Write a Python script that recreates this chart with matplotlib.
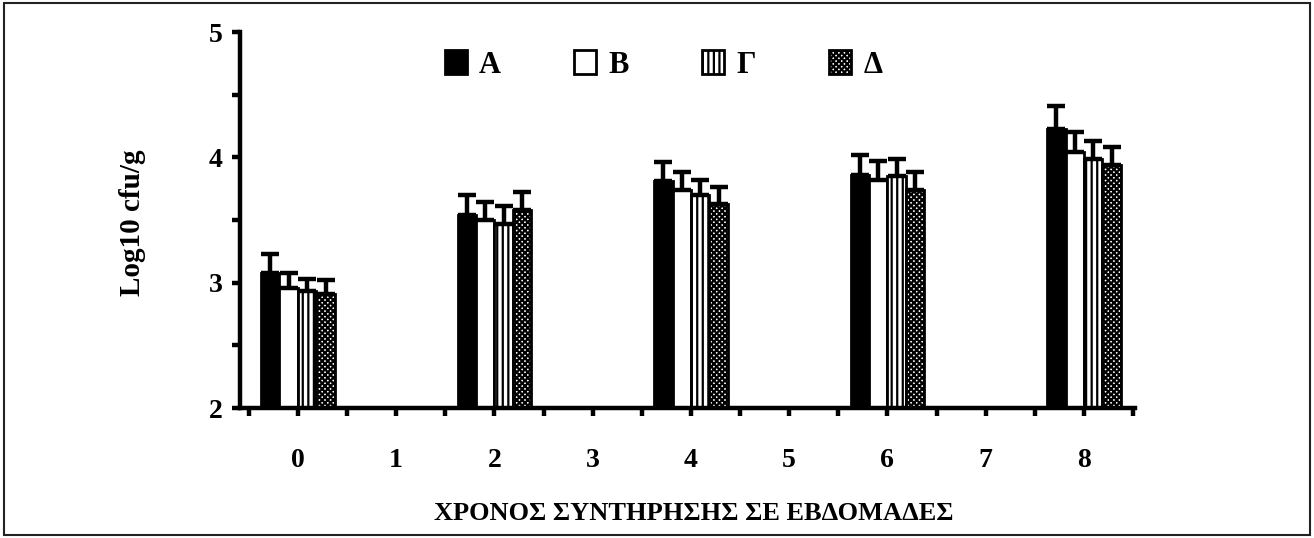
import numpy as np
import matplotlib
matplotlib.use("Agg")
import matplotlib.pyplot as plt
from matplotlib.patches import Rectangle
from matplotlib.ticker import MultipleLocator

plt.rcParams['font.family'] = ['Liberation Serif', 'DejaVu Serif']
plt.rcParams['font.weight'] = 'bold'
plt.rcParams['hatch.linewidth'] = 1.6

# weeks of storage that have measurements
weeks = [0, 2, 4, 6, 8]
week_ticks = list(range(9))
series = ['Α', 'Β', 'Γ', 'Δ']

# mean log10 cfu/g and upper error for each series
means = {
    'Α': [3.08, 3.54, 3.81, 3.86, 4.23],
    'Β': [2.96, 3.50, 3.74, 3.82, 4.04],
    'Γ': [2.93, 3.47, 3.70, 3.85, 3.99],
    'Δ': [2.91, 3.58, 3.63, 3.74, 3.94],
}
errors = {
    'Α': [0.15, 0.16, 0.15, 0.16, 0.18],
    'Β': [0.12, 0.14, 0.14, 0.15, 0.16],
    'Γ': [0.10, 0.14, 0.12, 0.14, 0.14],
    'Δ': [0.11, 0.14, 0.13, 0.14, 0.14],
}

styles = {
    'Α': dict(facecolor='black', hatch=None),
    'Β': dict(facecolor='white', hatch=None),
    'Γ': dict(facecolor='white', hatch='|||'),
    'Δ': dict(facecolor='white', hatch='xxxxxx'),
}

fig = plt.figure(figsize=(13.14, 5.38), dpi=100)
ax = fig.add_axes([0.1826, 0.2416, 0.6812, 0.6989])

w = 0.1875
x = np.array(weeks, dtype=float)
handles = []
for i, s in enumerate(series):
    xs = x + (i - 1.5) * w
    b = ax.bar(xs, np.array(means[s]) - 2, bottom=2, width=w,
               edgecolor='black', linewidth=2, label=s, zorder=2,
               **styles[s])
    handles.append(b)
    ax.errorbar(xs, means[s], yerr=[np.zeros(len(weeks)), errors[s]],
                fmt='none', ecolor='black', elinewidth=3.2, capsize=6.5,
                capthick=3.2, zorder=3)

ax.set_xlim(-0.59, 8.52)
ax.set_ylim(2, 5)
ax.set_xticks(week_ticks)
ax.set_xticklabels([str(t) for t in week_ticks])
ax.xaxis.set_minor_locator(MultipleLocator(0.5))
ax.set_yticks([2, 3, 4, 5])
ax.set_yticklabels(['2', '3', '4', '5'])
ax.yaxis.set_minor_locator(MultipleLocator(0.5))

for side in ['top', 'right']:
    ax.spines[side].set_visible(False)
for side in ['left', 'bottom']:
    ax.spines[side].set_linewidth(3.2)

ax.tick_params(axis='x', which='both', direction='out', length=6, width=3.2)
ax.tick_params(axis='x', which='major', labelsize=20, pad=23)
ax.tick_params(axis='y', which='both', direction='out', length=5.5, width=3.2)
ax.tick_params(axis='y', which='major', labelsize=20, pad=7)

fig.text(0.1012, 0.5855, 'Log10 cfu/g', rotation=90, ha='center',
         va='center', fontsize=21, fontweight='bold')
fig.text(0.528, 0.0335, 'ΧΡΟΝΟΣ ΣΥΝΤΗΡΗΣΗΣ ΣΕ ΕΒΔΟΜΑΔΕΣ', ha='center',
         va='baseline', fontsize=19, fontweight='bold')

leg = ax.legend(handles=handles, labels=series, ncol=4, frameon=False,
                loc='center', bbox_to_anchor=(0.505, 0.879),
                bbox_transform=fig.transFigure, fontsize=22,
                handlelength=0.72, handleheight=0.8, handletextpad=0.4,
                columnspacing=2.4, borderpad=0)

fig.patches.append(Rectangle((0.003, 0.005), 0.994, 0.99,
                             transform=fig.transFigure, fill=False,
                             edgecolor='#222222', linewidth=1.5))

fig.savefig('out.png', dpi=100)
